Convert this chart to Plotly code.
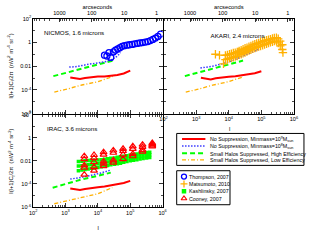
import plotly.graph_objects as go

# ---------------- data ----------------
# NICMOS 1.6 micron panel: model curves
nic_red_l = [1.4e3, 2.0e3, 2.8e3, 4.0e3, 6.3e3, 1.0e4, 1.6e4, 2.5e4, 4.0e4, 6.3e4, 1.0e5]
nic_red_c = [1.12e-3, 1.0e-3, 8.3e-4, 1.0e-3, 1.17e-3, 1.32e-3, 1.38e-3, 1.51e-3, 1.78e-3, 2.4e-3, 4.2e-3]
nic_blue_l = [1.3e3, 2.0e3, 3.2e3, 5.6e3, 1.0e4, 1.8e4, 2.9e4, 4.0e4, 5.0e4]
nic_blue_c = [8.3e-3, 8.9e-3, 1.12e-2, 1.5e-2, 1.86e-2, 2.5e-2, 4.0e-2, 7.0e-2, 0.14]
nic_green_l = [4.2e2, 1.0e3, 3.0e3, 1.0e4, 2.9e4]
nic_green_c = [1.45e-3, 2.7e-3, 5.8e-3, 1.35e-2, 2.9e-2]
nic_orange_l = [4.5e2, 1.0e3, 3.2e3, 1.0e4, 2.9e4]
nic_orange_c = [6.6e-5, 1.1e-4, 2.6e-4, 4.9e-4, 1.35e-3]
# Thompson 2007
thompson_l = [1.6e4, 1.9e4, 2.2e4, 2.5e4, 3.0e4, 3.5e4, 4.1e4, 4.8e4, 5.6e4, 6.6e4, 7.9e4, 9.5e4,
              1.15e5, 1.38e5, 1.66e5, 2.0e5, 2.4e5, 2.9e5, 3.5e5, 4.2e5, 5.0e5, 6.0e5, 7.2e5, 8.7e5]
thompson_c = [0.083, 0.071, 0.138, 0.054, 0.158, 0.219, 0.282, 0.355, 0.468, 0.525, 0.575, 0.631,
              0.676, 0.759, 0.813, 0.891, 0.955, 1.047, 1.175, 1.413, 1.778, 2.291, 3.162, 5.012]

# AKARI 2.4 micron panel: model curves
ak_red_l = [1.4e3, 2.0e3, 2.8e3, 4.0e3, 6.3e3, 1.0e4, 1.6e4, 2.5e4, 4.0e4, 6.3e4, 1.0e5]
ak_red_c = [1.05e-3, 8.9e-4, 7.6e-4, 9.5e-4, 1.12e-3, 1.26e-3, 1.41e-3, 1.66e-3, 2.0e-3, 2.5e-3, 3.7e-3]
ak_blue_l = [1.35e3, 2.0e3, 3.2e3, 6.2e3, 1.26e4, 2.8e4, 5.0e4, 8.3e4]
ak_blue_c = [6.9e-3, 7.9e-3, 1.0e-2, 1.55e-2, 2.8e-2, 7.4e-2, 0.141, 0.257]
ak_green_l = [4.5e2, 1.0e3, 3.0e3, 1.0e4, 2.75e4]
ak_green_c = [1.45e-3, 2.6e-3, 5.6e-3, 1.3e-2, 2.95e-2]
ak_orange_l = [4.8e2, 1.0e3, 3.2e3, 1.0e4, 2.75e4]
ak_orange_c = [6.6e-5, 1.05e-4, 2.5e-4, 5.0e-4, 1.26e-3]
# Matsumoto 2010
mats_l = [7.9e3, 9.1e3, 1.05e4, 1.2e4, 1.38e4, 1.58e4, 1.82e4, 2.09e4, 2.4e4, 2.75e4, 3.16e4, 3.63e4,
          4.17e4, 4.79e4, 5.5e4, 6.3e4, 7.2e4, 8.3e4, 9.5e4, 1.1e5, 1.26e5, 1.45e5, 1.66e5, 1.9e5,
          2.19e5, 2.5e5, 2.9e5, 3.3e5, 3.8e5, 4.4e5]
mats_c_upper = [0.079, 0.089, 0.100, 0.112, 0.126, 0.138, 0.158, 0.191, 0.219, 0.263, 0.316, 0.363,
                0.437, 0.501, 0.603, 0.692, 0.794, 0.912, 1.05, 1.20, 1.38, 1.51, 1.66, 1.86,
                2.09, 2.40, 2.51, 2.00, 1.26, 0.631]
mats_c_lower = [0.0355, 0.0398, 0.0447, 0.0501, 0.0562, 0.0631, 0.0708, 0.0891, 0.100, 0.120, 0.141, 0.166,
                0.200, 0.240, 0.282, 0.331, 0.380, 0.437, 0.501, 0.575, 0.661, 0.759, 0.871, 1.00,
                1.12, 1.26, 1.26, 0.891, 0.501, 0.251]
mats_out_l = [3.9e3, 5.2e3, 6.9e3, 1.95e4, 4.6e5]
mats_out_c = [0.100, 0.083, 0.0155, 0.158, 0.138]

# IRAC 3.6 micron panel: model curves
ir_red_l = [1.4e3, 2.0e3, 2.8e3, 4.0e3, 6.3e3, 1.0e4, 1.6e4, 2.5e4, 4.0e4, 6.3e4, 1.0e5]
ir_red_c = [4.0e-5, 3.3e-5, 2.9e-5, 3.55e-5, 4.4e-5, 5.2e-5, 6.0e-5, 7.6e-5, 9.5e-5, 1.2e-4, 1.82e-4]
ir_blue_l = [1.4e3, 2.0e3, 3.2e3, 6.3e3, 1.26e4, 2.5e4]
ir_blue_c = [2.6e-4, 3.0e-4, 3.8e-4, 5.6e-4, 8.9e-4, 1.58e-3]
ir_green_l = [4.0e2, 1.0e3, 3.2e3, 1.0e4, 2.5e4]
ir_green_c = [4.6e-5, 1.0e-4, 2.5e-4, 5.0e-4, 9.5e-4]
ir_orange_l = [4.5e2, 1.0e3, 3.2e3, 1.0e4, 2.8e4]
ir_orange_c = [1.9e-6, 3.2e-6, 7.1e-6, 1.4e-5, 4.8e-5]
# Kashlinsky 2007
kash_l = [2.5e3, 3.2e3, 4.0e3, 5.0e3, 6.3e3, 7.9e3, 1.0e4, 1.26e4, 1.6e4, 2.0e4, 2.5e4, 3.2e4,
          4.0e4, 5.0e4, 6.3e4, 7.9e4, 1.0e5, 1.26e5, 1.6e5, 2.0e5, 2.5e5, 3.2e5, 4.0e5]
kash_c_upper = [8.9e-3, 9.3e-3, 1.0e-2, 1.05e-2, 1.1e-2, 1.12e-2, 1.17e-2, 1.26e-2, 1.38e-2, 1.51e-2,
                1.66e-2, 1.78e-2, 2.0e-2, 2.24e-2, 2.51e-2, 2.82e-2, 3.16e-2, 3.55e-2, 3.98e-2,
                4.47e-2, 5.0e-2, 5.25e-2, 5.6e-2]
kash_c_mid = [3.55e-3, 3.8e-3, 4.2e-3, 4.6e-3, 5.0e-3, 5.2e-3, 5.6e-3, 6.3e-3, 7.1e-3, 7.9e-3,
              8.7e-3, 9.5e-3, 1.05e-2, 1.2e-2, 1.38e-2, 1.58e-2, 1.78e-2, 2.0e-2, 2.24e-2,
              2.51e-2, 2.82e-2, 3.0e-2, 3.3e-2]
kash_c_lower = [1.41e-3, 1.58e-3, 1.78e-3, 2.0e-3, 2.24e-3, 2.4e-3, 2.6e-3, 3.0e-3, 3.55e-3, 4.0e-3,
                4.47e-3, 5.0e-3, 5.6e-3, 6.3e-3, 7.6e-3, 8.9e-3, 1.0e-2, 1.12e-2, 1.26e-2,
                1.41e-2, 1.58e-2, 1.74e-2, 1.9e-2]
# Cooney 2007
cooney_l = [3.8e3] * 5 + [7.6e3] * 5 + [1.5e4] * 5 + [3.0e4] * 4 + [6.0e4] * 4 + [1.2e5] * 4 + [2.4e5] * 4 + [4.8e5] * 4
cooney_c = [2.5e-2, 1.4e-2, 4.0e-3, 2.5e-3, 6.3e-4,
            3.2e-2, 1.8e-2, 7.9e-3, 2.8e-3, 1.4e-3,
            5.6e-2, 3.5e-2, 8.9e-3, 5.6e-3, 3.5e-3,
            7.9e-2, 5.0e-2, 1.1e-2, 7.1e-3,
            0.11, 7.1e-2, 3.5e-2, 1.4e-2,
            0.18, 0.11, 4.0e-2, 2.5e-2,
            0.25, 0.16, 8.9e-2, 6.3e-2,
            0.35, 0.28, 0.22, 0.18]

# axis ticks
l_ticks = [1e2, 1e3, 1e4, 1e5, 1e6]
l_ticktext = ['10<sup>2</sup>', '10<sup>3</sup>', '10<sup>4</sup>', '10<sup>5</sup>', '10<sup>6</sup>']
c_ticks = [1e-6, 1e-4, 1e-2, 1, 1e2]
c_ticktext = ['10<sup>-6</sup>', '10<sup>-4</sup>', '0.01', '1', '10<sup>2</sup>']
c_minor = [1e-5, 1e-3, 1e-1, 1e1]
arc_ticks = [1000, 100, 10, 1]
arc_ticktext = ['1000', '100', '10', '1']

legend_models = ['No Suppression, Minmass=10<sup>9</sup>M<sub>sun</sub>',
                 'No Suppression, Minmass=10<sup>8</sup>M<sub>sun</sub>',
                 'Small Halos Suppressed, High Efficiency',
                 'Small Halos Suppressed, Low Efficiency']
legend_data = ['Thompson, 2007', 'Matsumoto, 2010', 'Kashlinsky, 2007', 'Cooney, 2007']

# ---------------- styling ----------------
# The figure is laid out at K times the target size and shown scaled by 1/K,
# so that sub-6px text is not clamped by the browser.
K = 2
W, H = 314, 242
FONT = 'Liberation Sans'
RED = '#FF0000'
BLUE = '#3838FF'
GREEN = '#00FF00'
ORANGE = '#FFB000'


def dash(*vals):
    return ','.join('%gpx' % (v * K) for v in vals)


red_line = dict(color=RED, width=2 * K)
blue_line = dict(color=BLUE, width=1.5 * K, dash=dash(1.5, 1.5))
green_line = dict(color=GREEN, width=2 * K, dash=dash(5, 3))
orange_line = dict(color=ORANGE, width=1.3 * K, dash=dash(4, 2, 1, 2))
thompson_marker = dict(symbol='circle-open', color='#0000FF', size=6 * K, line=dict(width=1.3 * K, color='#0000FF'))
mats_marker = dict(symbol='cross-thin-open', color=ORANGE, size=6 * K, line=dict(width=1.3 * K, color=ORANGE))
kash_marker = dict(symbol='square', color=GREEN, size=3.5 * K, line=dict(width=0))
cooney_marker = dict(symbol='triangle-up-open', color=RED, size=6 * K, line=dict(width=1.2 * K, color=RED))


def fx(p):
    return p / W


def fy(p):
    return 1 - p / H


xl_dom = [fx(30), fx(163)]
xr_dom = [fx(164), fx(298)]
yt_dom = [fy(113), fy(15)]
yb_dom = [fy(209), fy(114)]

fig = go.Figure()


def add_models(xa, ya, rl, rc, bl, bc, gl, gc, ol, oc):
    fig.add_trace(go.Scatter(x=gl, y=gc, mode='lines', line=green_line, xaxis=xa, yaxis=ya, showlegend=False))
    fig.add_trace(go.Scatter(x=ol, y=oc, mode='lines', line=orange_line, xaxis=xa, yaxis=ya, showlegend=False))
    fig.add_trace(go.Scatter(x=bl, y=bc, mode='lines', line=blue_line, xaxis=xa, yaxis=ya, showlegend=False))
    fig.add_trace(go.Scatter(x=rl, y=rc, mode='lines', line=red_line, xaxis=xa, yaxis=ya, showlegend=False))


# NICMOS
add_models('x', 'y', nic_red_l, nic_red_c, nic_blue_l, nic_blue_c, nic_green_l, nic_green_c, nic_orange_l, nic_orange_c)
fig.add_trace(go.Scatter(x=thompson_l, y=thompson_c, mode='markers', marker=thompson_marker,
                         xaxis='x', yaxis='y', showlegend=False))
# AKARI
add_models('x2', 'y2', ak_red_l, ak_red_c, ak_blue_l, ak_blue_c, ak_green_l, ak_green_c, ak_orange_l, ak_orange_c)
fig.add_trace(go.Scatter(x=mats_l + mats_l + mats_out_l, y=mats_c_upper + mats_c_lower + mats_out_c,
                         mode='markers', marker=mats_marker, xaxis='x2', yaxis='y2', showlegend=False))
# IRAC
fig.add_trace(go.Scatter(x=kash_l * 3, y=kash_c_upper + kash_c_mid + kash_c_lower, mode='markers',
                         marker=kash_marker, xaxis='x3', yaxis='y3', showlegend=False))
add_models('x3', 'y3', ir_red_l, ir_red_c, ir_blue_l, ir_blue_c, ir_green_l, ir_green_c, ir_orange_l, ir_orange_c)
fig.add_trace(go.Scatter(x=cooney_l, y=cooney_c, mode='markers', marker=cooney_marker,
                         xaxis='x3', yaxis='y3', showlegend=False))

# dummy traces registering the arcsecond axes
fig.add_trace(go.Scatter(x=[1000], y=[1e-12], mode='markers', marker=dict(opacity=0),
                         xaxis='x4', yaxis='y', showlegend=False, hoverinfo='skip'))
fig.add_trace(go.Scatter(x=[1000], y=[1e-12], mode='markers', marker=dict(opacity=0),
                         xaxis='x5', yaxis='y2', showlegend=False, hoverinfo='skip'))

# ---------- legend keys on an invisible (target-pixel) axis ----------
leg1_rows = [139, 146.3, 153.7, 160.5]
leg2_rows = [177.7, 185.3, 192.8, 200.3]
for row, ln in zip(leg1_rows, [red_line, blue_line, green_line, orange_line]):
    fig.add_trace(go.Scatter(x=[183, 207], y=[row, row], mode='lines', line=ln,
                             xaxis='x6', yaxis='y6', showlegend=False, hoverinfo='skip'))
for row, mk in zip(leg2_rows, [thompson_marker, mats_marker, kash_marker, cooney_marker]):
    m = dict(mk)
    m['size'] = (4.5 if m['symbol'] == 'square' else 5) * K
    fig.add_trace(go.Scatter(x=[185], y=[row], mode='markers', marker=m,
                             xaxis='x6', yaxis='y6', showlegend=False, hoverinfo='skip'))

# ---------------- axes ----------------
tickfont = dict(size=5.6 * K, family=FONT, color='black')
base = dict(type='log', showline=True, linecolor='black', linewidth=1 * K, ticks='inside', ticklen=3.5 * K,
            tickwidth=0.8 * K, tickcolor='black', showgrid=False, zeroline=False, tickfont=tickfont)
l_minor = [m * 10 ** k for k in range(2, 6) for m in range(2, 10)]
arc_minor = [m * 10.0 ** k for k in range(-1, 4) for m in range(2, 10) if 0.648 < m * 10.0 ** k < 6480]
minor_style = dict(ticks='inside', ticklen=2 * K, tickwidth=0.7 * K, tickcolor='black')


def xaxis_l(domain, anchor, labels, mirror):
    return dict(base, domain=domain, anchor=anchor, range=[2, 6], tickmode='array', tickvals=l_ticks,
                ticktext=l_ticktext, showticklabels=labels, mirror=mirror,
                minor=dict(minor_style, tickmode='array', tickvals=l_minor))


def yaxis_c(domain, anchor, labels):
    return dict(base, domain=domain, anchor=anchor, range=[-6, 2], tickmode='array', tickvals=c_ticks,
                ticktext=c_ticktext, showticklabels=labels, mirror='ticks',
                minor=dict(minor_style, tickmode='array', tickvals=c_minor))


def xaxis_arc(domain, anchor, overlay):
    return dict(base, domain=domain, anchor=anchor, overlaying=overlay, side='top',
                range=[3.81158, -0.18842], tickmode='array', tickvals=arc_ticks, ticktext=arc_ticktext,
                minor=dict(minor_style, tickmode='array', tickvals=arc_minor))


fig.update_layout(
    width=W * K, height=H * K, margin=dict(l=0, r=0, t=0, b=0),
    paper_bgcolor='white', plot_bgcolor='rgba(0,0,0,0)',
    font=dict(family=FONT, size=6 * K, color='black'),
    xaxis=xaxis_l(xl_dom, 'y', False, True),
    yaxis=yaxis_c(yt_dom, 'x', True),
    xaxis2=xaxis_l(xr_dom, 'y2', True, True),
    yaxis2=yaxis_c(yt_dom, 'x2', False),
    xaxis3=xaxis_l(xl_dom, 'y3', True, 'ticks'),
    yaxis3=yaxis_c(yb_dom, 'x3', True),
    xaxis4=xaxis_arc(xl_dom, 'y', 'x'),
    xaxis5=xaxis_arc(xr_dom, 'y2', 'x2'),
    xaxis6=dict(domain=[0, 1], range=[0, W], visible=False, anchor='y6'),
    yaxis6=dict(domain=[0, 1], range=[H, 0], visible=False, anchor='x6'),
    showlegend=False,
)

# legend boxes
for (x0, y0, x1, y1) in [(177.5, 133.3, 308.3, 166.2), (177.5, 171.7, 232.3, 206.7)]:
    fig.add_shape(type='rect', xref='paper', yref='paper', x0=fx(x0), x1=fx(x1), y0=fy(y1), y1=fy(y0),
                  line=dict(color='black', width=1 * K), fillcolor='rgba(0,0,0,0)')

ann = []
lfont = dict(family=FONT, size=5.3 * K, color='black')
for row, txt in zip(leg1_rows, legend_models):
    ann.append(dict(x=fx(210.5), y=fy(row), text=txt, xanchor='left', yanchor='middle', font=lfont))
for row, txt in zip(leg2_rows, legend_data):
    ann.append(dict(x=fx(189), y=fy(row), text=txt, xanchor='left', yanchor='middle', font=lfont))

pfont = dict(family=FONT, size=6.2 * K, color='black')
ann.append(dict(x=fx(40), y=fy(29.5), text='NICMOS, 1.6 microns', xanchor='left', yanchor='middle', font=pfont))
ann.append(dict(x=fx(211), y=fy(33), text='AKARI, 2.4 microns', xanchor='left', yanchor='middle', font=pfont))
ann.append(dict(x=fx(43), y=fy(128.5), text='IRAC, 3.6 microns', xanchor='left', yanchor='middle', font=pfont))

afont = dict(family=FONT, size=5.8 * K, color='black')
ann.append(dict(x=fx(96), y=fy(3), text='arcseconds', xanchor='center', yanchor='middle', font=afont))
ann.append(dict(x=fx(231), y=fy(3), text='arcseconds', xanchor='center', yanchor='middle', font=afont))
ann.append(dict(x=fx(97), y=fy(230), text='l', xanchor='center', yanchor='middle', font=afont))
ann.append(dict(x=fx(232), y=fy(128), text='l', xanchor='center', yanchor='middle', font=afont))

ytitle = 'l(l+1)C<sub>l</sub>/2\u03c0  (nW<sup>2</sup> m<sup>-4</sup> sr<sup>-2</sup>)'
ann.append(dict(x=fx(7), y=fy(64), text=ytitle, textangle=-90, xanchor='center', yanchor='middle', font=afont))
ann.append(dict(x=fx(7.5), y=fy(162), text=ytitle, textangle=-90, xanchor='center', yanchor='middle', font=afont))

for a in ann:
    a.update(xref='paper', yref='paper', showarrow=False)
fig.update_layout(annotations=ann)

post = """
var gd = document.getElementById('{plot_id}');
document.documentElement.style.overflow = 'hidden';
document.body.style.overflow = 'hidden';
document.body.style.margin = '0';
gd.style.transformOrigin = '0 0';
gd.style.transform = 'scale(%s)';
""" % (1.0 / K)

fig.write_html('out.html', post_script=post, config={'displayModeBar': False, 'staticPlot': True})
